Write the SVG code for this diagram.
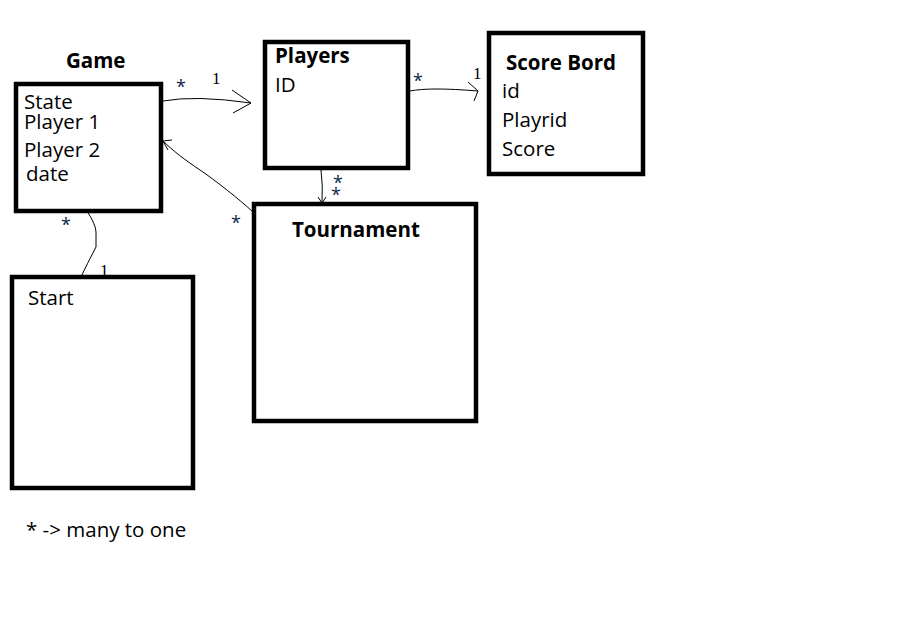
<svg xmlns="http://www.w3.org/2000/svg" width="908" height="644" viewBox="0 0 908 644">
<style>
.box{fill:#fff;stroke:#000;stroke-width:4.5}
.t{font-family:"Open Sans","Noto Sans",sans-serif;font-size:20.5px;fill:#000}
.b{font-weight:bold}
.c{fill:none;stroke:#000;stroke-width:1}
.s{font-family:"Open Sans","Noto Sans",sans-serif;font-size:18px;fill:#0d2a4a}
.h{font-family:"Liberation Serif",serif;font-size:17px;fill:#000}
</style>
<rect width="908" height="644" fill="#fff"/>
<g id="connectors">
<path class="c" d="M163,101 Q195,95 251,103"/>
<path class="c" d="M232,90 L251,103 L233,113"/>
<path class="c" d="M410,91 Q430,87 478,91"/>
<path class="c" d="M468,82 L478,91 L474,101"/>
<path class="c" d="M253,212 C240,200 215,180 200,170 C185,160 172,150 163,141"/>
<path class="c" d="M163,141 L172,140 M163,141 L168,150"/>
<path class="c" d="M321,170 Q323,185 322,203"/>
<path class="c" d="M318,197 L322,203 L326,197"/>
<path class="c" d="M87,211 Q96,225 96,232 L96,247 Q88,262 78,283"/>
<text class="s" x="176" y="93">*</text>
<text class="h" x="212" y="84">1</text>
<text class="s" x="413" y="87">*</text>
<text class="h" x="473" y="79">1</text>
<text class="s" x="231" y="229">*</text>
<text class="s" x="333" y="189">*<tspan x="331" dy="12">*</tspan></text>
<text class="s" x="61" y="231">*</text>
<text class="h" x="100" y="276">1</text>
</g>
<g id="game">
<rect class="box" x="16" y="84" width="145" height="127"/>
<text class="t b" x="66" y="68">Game</text>
<text class="t" x="24" y="109">State<tspan x="24" dy="20">Player 1</tspan><tspan x="24" dy="28">Player 2</tspan><tspan x="26" dy="24">date</tspan></text>
</g>
<g id="players">
<rect class="box" x="265" y="42" width="143" height="126"/>
<text class="t b" x="275" y="63">Players</text>
<text class="t" x="275" y="92">ID</text>
</g>
<g id="scorebord">
<rect class="box" x="489" y="33" width="154" height="141"/>
<text class="t b" x="506" y="70">Score Bord</text>
<text class="t" x="502" y="98">id</text>
<text class="t" x="502" y="127">Playrid</text>
<text class="t" x="502" y="156">Score</text>
</g>
<g id="tournament">
<rect class="box" x="254" y="204" width="222" height="217"/>
<text class="t b" x="292" y="237">Tournament</text>
</g>
<g id="start">
<rect class="box" x="12" y="277" width="181" height="211"/>
<text class="t" x="28" y="305">Start</text>
</g>
<g id="legend">
<text class="t" x="26" y="537">* -&gt; many to one</text>
</g>
</svg>
